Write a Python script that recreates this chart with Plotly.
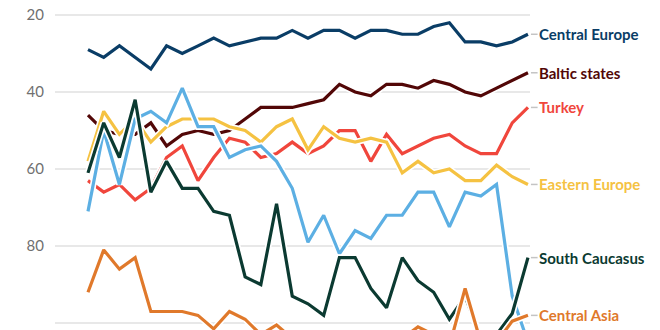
import plotly.graph_objects as go

# Years on the x axis (not labelled in the chart)
years = list(range(1992, 2021))

# Ranking per region (lower is better; axis is reversed)
central_europe = [29, 31, 28, 31, 34, 28, 30, 28, 26, 28, 27, 26, 26, 24, 26, 24, 24, 26, 24, 24, 25, 25, 23, 22, 27, 27, 28, 27, 25]
baltic_states = [46, 50, 51, 51, 48, 54, 51, 50, 51, 50, 47, 44, 44, 44, 43, 42, 38, 40, 41, 38, 38, 39, 37, 38, 40, 41, 39, 37, 35]
turkey = [63, 66, 64, 68, 65, 57, 54, 63, 57, 52, 53, 57, 56, 53, 56, 54, 50, 50, 58, 51, 56, 54, 52, 51, 54, 56, 56, 48, 44]
eastern_europe = [58, 45, 51, 47, 53, 49, 47, 47, 47, 49, 50, 53, 49, 47, 55, 49, 52, 53, 52, 53, 61, 58, 61, 60, 63, 63, 59, 62, 64]
western_balkans = [71, 50, 64, 47, 45, 48, 39, 49, 49, 57, 55, 54, 58, 65, 79, 72, 82, 76, 78, 72, 72, 66, 66, 75, 66, 67, 64, 93, 105]
south_caucasus = [61, 48, 57, 42, 66, 58, 65, 65, 71, 72, 88, 90, 69, 93, 95, 98, 83, 83, 91, 96, 83, 89, 92, 99, 93, 104, 103, 97.5, 83]
central_asia = [92, 81, 86, 83, 97, 97, 97, 98, 101.5, 97, 99, 103, 100.5, 104, 105, 106, 104, 105, 107, 105, 104, 101, 103, 106, 91, 105, 105, 99.5, 98]

series = [
    ("Central Europe", central_europe, "#0a3d66", True),
    ("Baltic states", baltic_states, "#520707", True),
    ("Turkey", turkey, "#f0463c", True),
    ("Eastern Europe", eastern_europe, "#f5c242", True),
    ("Western Balkans", western_balkans, "#5cafe3", False),
    ("South Caucasus", south_caucasus, "#0b3a31", True),
    ("Central Asia", central_asia, "#e0792b", True),
]

y_ticks = [20, 40, 60, 80, 100]

fig = go.Figure()

for name, vals, color, labelled in series:
    # white halo under each line
    fig.add_trace(go.Scatter(x=years, y=vals, mode="lines",
                             line=dict(color="white", width=6.5),
                             hoverinfo="skip", showlegend=False))
    fig.add_trace(go.Scatter(x=years, y=vals, mode="lines", name=name,
                             line=dict(color=color, width=3.2),
                             showlegend=False))
    if labelled:
        fig.add_shape(type="line", xref="paper", yref="y",
                      x0=1.002, x1=1.016, y0=vals[-1], y1=vals[-1],
                      line=dict(color="#c4c4c4", width=1.5))
        fig.add_annotation(xref="paper", yref="y", x=1.014, y=vals[-1],
                           text=name, showarrow=False, xanchor="left",
                           yanchor="middle",
                           font=dict(family="Lato", size=15, color=color,
                                     weight="bold"))

fig.update_layout(
    width=660, height=330,
    margin=dict(l=55, r=130, t=0, b=0),
    paper_bgcolor="white", plot_bgcolor="white",
    xaxis=dict(range=[1989.9, 2020.13], showgrid=False, zeroline=False,
               showticklabels=False, showline=False, ticks=""),
    yaxis=dict(range=[101.8, 16.1], tickvals=y_ticks, showgrid=True,
               gridcolor="#e8e8e8", gridwidth=1.5, zeroline=False,
               showline=False, ticks="", ticklabelstandoff=10,
               tickfont=dict(family="Lato", size=15, color="#707070")),
)

fig.write_html("out.html")
